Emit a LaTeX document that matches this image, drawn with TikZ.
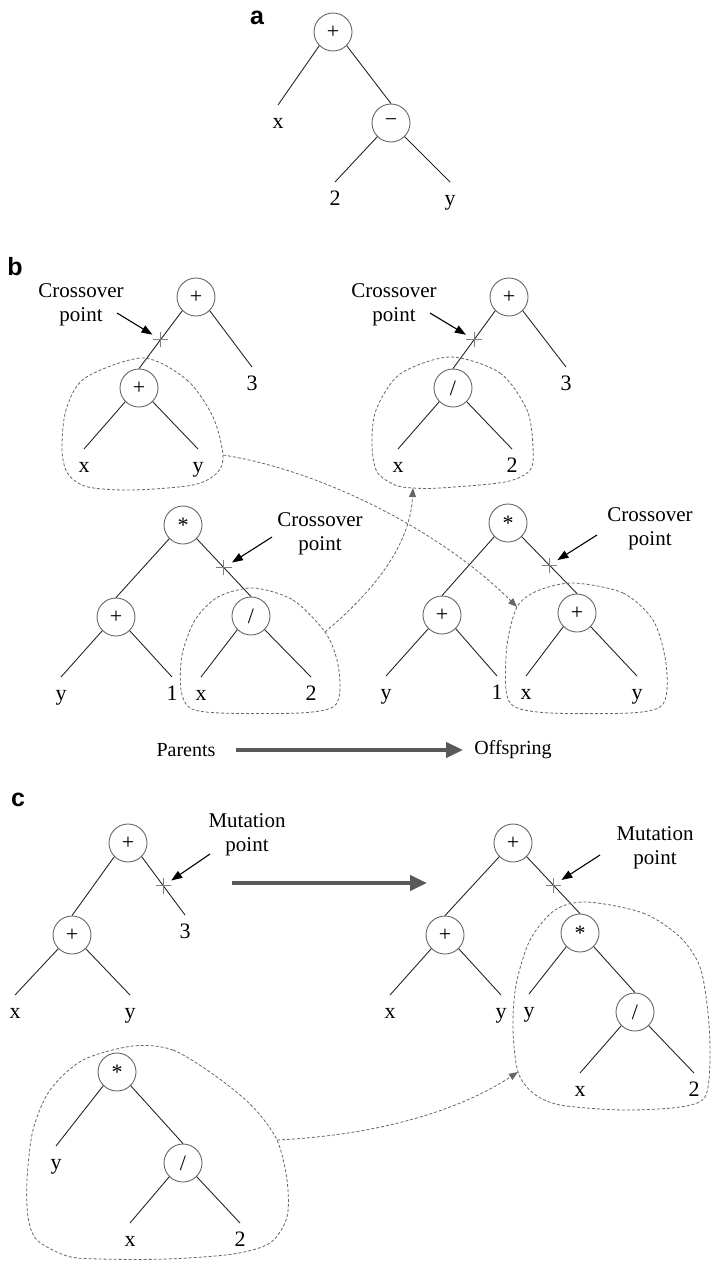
\documentclass[tikz,border=0pt]{standalone}
\usepackage{fontspec}
\setmainfont{Liberation Serif}
\newfontfamily\panelfont{Liberation Sans}
\usetikzlibrary{arrows.meta,shapes.misc}

\begin{document}
\begin{tikzpicture}[x=1pt,y=-1pt,
  op/.style={circle,draw=black!60,line width=0.9pt,minimum size=38pt,inner sep=0pt,font=\fontsize{22}{22}\selectfont},
  leaf/.style={anchor=north,inner sep=0pt,text height=23pt,text depth=6pt,font=\fontsize{22}{22}\selectfont},
  edge/.style={draw=black!85,line width=0.9pt},
  cut/.style={cross out,rotate=45,draw=black!50,line width=0.8pt,minimum size=10pt,inner sep=0pt},
  note/.style={align=center,inner sep=0pt,font=\fontsize{21}{24}\selectfont},
  notearrow/.style={draw=black,line width=1.1pt,-{Triangle[length=11pt,width=8pt]},shorten >=4pt},
  blob/.style={draw=black!60,line width=0.8pt,dash pattern=on 3pt off 2pt},
  move/.style={draw=black!60,line width=0.8pt,dash pattern=on 3pt off 2pt,-{Triangle[length=9pt,width=7pt]}},
  bigarrow/.style={draw=black!65,line width=4pt,-{Triangle[length=17pt,width=15pt]}},
  panel/.style={inner sep=0pt,font=\panelfont\bfseries\fontsize{25}{25}\selectfont},
]
\useasboundingbox (0,0) rectangle (712,1261);

% ---------- panel a: the expression x + (2 - y) ----------
\node[panel] (la) at (257,18) {a};
\node[op] (a0) at (333,32) {+};
\node[op] (a2) at (391,123) {−};
\node[leaf] (a1) at (278,105) {x};
\node[leaf] (a21) at (335,182) {2};
\node[leaf] (a22) at (450,182) {y};
\draw[edge] (a0.south west) -- (a1.north);
\draw[edge] (a0.south east) -- (a2.north);
\draw[edge] (a2.south west) -- (a21.north);
\draw[edge] (a2.south east) -- (a22.north);

% ---------- panel b: crossover ----------
\node[panel] (lb) at (15,267) {b};

% first parent, upper left
\node[op] (p1) at (196,297) {+};
\node[op] (p1a) at (139,388) {+};
\node[leaf] (p1b) at (252,367) {3};
\node[leaf] (p1ax) at (84,449) {x};
\node[leaf] (p1ay) at (198,449) {y};
\draw[edge] (p1.south west) -- (p1a.north) node[cut,pos=.5] (p1c) {};
\draw[edge] (p1.south east) -- (p1b.north);
\draw[edge] (p1a.south west) -- (p1ax.north);
\draw[edge] (p1a.south east) -- (p1ay.north);
\node[note] (n1) at (81,305) {Crossover\\point};
\coordinate (n1s) at (117,313);
\draw[notearrow] (n1s) -- (p1c);

% first offspring, upper right
\node[op] (p2) at (509,297) {+};
\node[op] (p2a) at (453,388) {/};
\node[leaf] (p2b) at (566,367) {3};
\node[leaf] (p2ax) at (398,449) {x};
\node[leaf] (p2ay) at (512,449) {2};
\draw[edge] (p2.south west) -- (p2a.north) node[cut,pos=.5] (p2c) {};
\draw[edge] (p2.south east) -- (p2b.north);
\draw[edge] (p2a.south west) -- (p2ax.north);
\draw[edge] (p2a.south east) -- (p2ay.north);
\node[note] (n2) at (394,305) {Crossover\\point};
\coordinate (n2s) at (430,313);
\draw[notearrow] (n2s) -- (p2c);

% second parent, lower left
\node[op] (q1) at (183,525) {*};
\node[op] (q1a) at (116,617) {+};
\node[op] (q1b) at (251,616) {/};
\node[leaf] (q1ay) at (61,677) {y};
\node[leaf] (q1a1) at (172,677) {1};
\node[leaf] (q1bx) at (201,677) {x};
\node[leaf] (q1b2) at (311,677) {2};
\draw[edge] (q1.south west) -- (q1a.north);
\draw[edge] (q1.south east) -- (q1b.north) node[cut,pos=.5] (q1c) {};
\draw[edge] (q1a.south west) -- (q1ay.north);
\draw[edge] (q1a.south east) -- (q1a1.north);
\draw[edge] (q1b.south west) -- (q1bx.north);
\draw[edge] (q1b.south east) -- (q1b2.north);
\node[note] (n3) at (320,534) {Crossover\\point};
\coordinate (n3s) at (272,537);
\draw[notearrow] (n3s) -- (q1c);

% second offspring, lower right
\node[op] (q2) at (508,523) {*};
\node[op] (q2a) at (442,615) {+};
\node[op] (q2b) at (577,613) {+};
\node[leaf] (q2ay) at (386,676) {y};
\node[leaf] (q2a1) at (497,676) {1};
\node[leaf] (q2bx) at (526,676) {x};
\node[leaf] (q2by) at (637,676) {y};
\draw[edge] (q2.south west) -- (q2a.north);
\draw[edge] (q2.south east) -- (q2b.north) node[cut,pos=.5] (q2c) {};
\draw[edge] (q2a.south west) -- (q2ay.north);
\draw[edge] (q2a.south east) -- (q2a1.north);
\draw[edge] (q2b.south west) -- (q2bx.north);
\draw[edge] (q2b.south east) -- (q2by.north);
\node[note] (n4) at (650,529) {Crossover\\point};
\coordinate (n4s) at (597,535);
\draw[notearrow] (n4s) -- (q2c);

% exchanged subtrees
\coordinate (m1s) at (223,455);
\coordinate (m1e) at (517,607);
\coordinate (m2s) at (325,632);
\coordinate (m2e) at (413,488);
\draw[blob] plot[smooth cycle] coordinates {(143,358) (187,380) (213,417) (223,455) (217,473) (193,485) (133,490) (88,487) (68,474) (62,450) (66,410) (85,378)};
\draw[blob] plot[smooth cycle] coordinates {(450,357) (500,373) (527,410) (533,447) (530,470) (505,482) (440,488) (413,488) (395,485) (377,472) (372,445) (376,410) (400,374)};
\draw[blob] plot[smooth cycle] coordinates {(253,588) (293,600) (325,632) (337,660) (340,690) (333,707) (300,713) (220,713) (190,708) (181,690) (182,655) (195,620) (218,597)};
\draw[blob] plot[smooth cycle] coordinates {(573,583) (623,593) (653,620) (665,657) (667,690) (660,707) (630,713) (550,713) (515,707) (506,690) (507,645) (517,607) (537,591)};
\draw[move] (m1s) .. controls (320,470) and (440,530) .. (m1e);
\draw[move] (m2s) .. controls (375,590) and (410,545) .. (m2e);

\node[inner sep=0pt,font=\fontsize{20}{20}\selectfont] (par) at (186,750) {Parents};
\node[inner sep=0pt,font=\fontsize{20}{20}\selectfont] (off) at (513,750) {Offspring};
\draw[bigarrow,shorten <=20pt,shorten >=11pt] (par.east) -- (off.west);

% ---------- panel c: mutation ----------
\node[panel] (lc) at (18,800) {c};

% parent
\node[op] (r1) at (128,843) {+};
\node[op] (r1a) at (72,935) {+};
\node[leaf] (r1b) at (185,915) {3};
\node[leaf] (r1ax) at (15,995) {x};
\node[leaf] (r1ay) at (130,995) {y};
\draw[edge] (r1.south west) -- (r1a.north);
\draw[edge] (r1.south east) -- (r1b.north) node[cut,pos=.5] (r1c) {};
\draw[edge] (r1a.south west) -- (r1ax.north);
\draw[edge] (r1a.south east) -- (r1ay.north);
\node[note] (n5) at (247,835) {Mutation\\point};
\coordinate (n5s) at (210,854);
\draw[notearrow] (n5s) -- (r1c);

\coordinate (ms) at (232,883);
\coordinate (me) at (427,883);
\draw[bigarrow] (ms) -- (me);

% mutated offspring
\node[op] (s1) at (513,843) {+};
\node[op] (s1a) at (445,935) {+};
\node[op] (s1b) at (580,933) {*};
\node[leaf] (s1ax) at (390,995) {x};
\node[leaf] (s1ay) at (501,995) {y};
\node[leaf] (s1by) at (529,994) {y};
\node[op] (s1c) at (635,1012) {/};
\node[leaf] (s1cx) at (580,1073) {x};
\node[leaf] (s1c2) at (694,1073) {2};
\draw[edge] (s1.south west) -- (s1a.north);
\draw[edge] (s1.south east) -- (s1b.north) node[cut,pos=.5] (s1m) {};
\draw[edge] (s1a.south west) -- (s1ax.north);
\draw[edge] (s1a.south east) -- (s1ay.north);
\draw[edge] (s1b.south west) -- (s1by.north);
\draw[edge] (s1b.south east) -- (s1c.north);
\draw[edge] (s1c.south west) -- (s1cx.north);
\draw[edge] (s1c.south east) -- (s1c2.north);
\node[note] (n6) at (655,848) {Mutation\\point};
\coordinate (n6s) at (600,855);
\draw[notearrow] (n6s) -- (s1m);

% randomly grown subtree
\node[op] (t1) at (117,1072) {*};
\node[leaf] (t1a) at (56,1146) {y};
\node[op] (t1b) at (183,1163) {/};
\node[leaf] (t1bx) at (130,1223) {x};
\node[leaf] (t1b2) at (240,1223) {2};
\draw[edge] (t1.south west) -- (t1a.north);
\draw[edge] (t1.south east) -- (t1b.north);
\draw[edge] (t1b.south west) -- (t1bx.north);
\draw[edge] (t1b.south east) -- (t1b2.north);

\coordinate (m3s) at (277,1140);
\coordinate (m3e) at (518,1072);
\draw[blob] plot[smooth cycle] coordinates {(587,902) (643,913) (680,937) (700,967) (708,1013) (710,1060) (705,1097) (680,1107) (623,1110) (560,1105) (533,1093) (518,1072) (513,1030) (516,985) (530,940) (555,910)};
\draw[blob] plot[smooth cycle] coordinates {(133,1046) (173,1050) (217,1077) (253,1107) (277,1140) (287,1180) (287,1217) (270,1243) (233,1254) (167,1259) (100,1259) (67,1256) (37,1240) (28,1217) (27,1180) (33,1130) (50,1090) (83,1060)};
\draw[move] (m3s) .. controls (380,1135) and (460,1110) .. (m3e);

\end{tikzpicture}
\end{document}
